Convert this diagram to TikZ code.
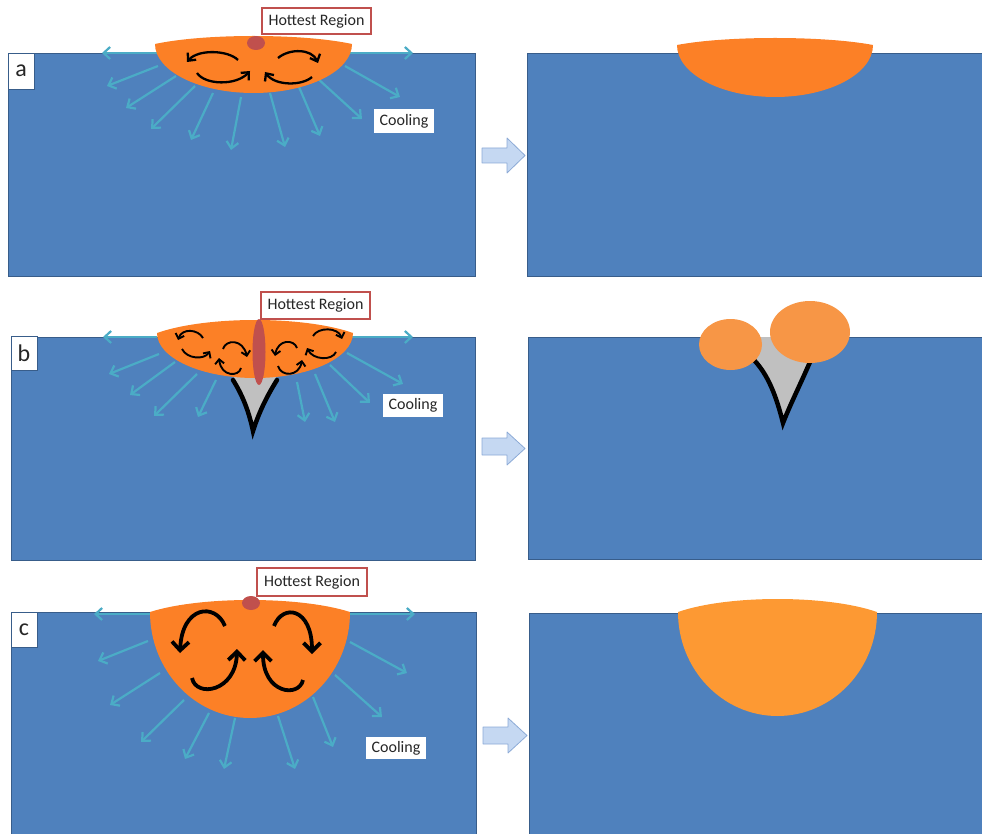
\documentclass[tikz,border=0pt]{standalone}
\usepackage{fontspec}
\setmainfont{Carlito}
\usetikzlibrary{arrows.meta}

\definecolor{steel}{RGB}{79,129,189}
\definecolor{steeledge}{RGB}{56,93,138}
\definecolor{melt}{RGB}{252,128,38}
\definecolor{meltlight}{RGB}{253,153,51}
\definecolor{droplet}{RGB}{247,150,70}
\definecolor{aqua}{RGB}{75,172,198}
\definecolor{brick}{RGB}{192,80,77}
\definecolor{slag}{RGB}{192,192,192}
\definecolor{inktext}{RGB}{38,38,38}
\definecolor{stepfill}{RGB}{197,216,242}
\definecolor{stepedge}{RGB}{140,170,214}

\tikzset{
  panel/.style={fill=steel, draw=steeledge, line width=0.8pt},
  heat/.style={draw=aqua, line width=2.2pt, -{Straight Barb[length=6.5pt,width=12pt]}},
  curl/.style={draw=black, line width=2.3pt, -{Straight Barb[length=6pt,width=11pt]}},
  thincurl/.style={draw=black, line width=1.9pt, -{Straight Barb[length=4.5pt,width=9pt]}},
  bigcurl/.style={draw=black, line width=3.8pt, -{Straight Barb[length=8.5pt,width=17pt]}},
  tag/.style={fill=white, draw=steeledge, line width=0.6pt, inner sep=0pt,
    font=\fontsize{24}{28}\selectfont, text=inktext},
  hotlabel/.style={fill=white, draw=brick, line width=1.4pt, inner sep=0pt,
    minimum width=109pt, minimum height=26pt, font=\fontsize{16}{18}\selectfont, text=inktext},
  coollabel/.style={fill=white, inner sep=0pt, minimum width=60pt, minimum height=23pt,
    font=\fontsize{16}{18}\selectfont, text=inktext},
  stepper/.style={fill=stepfill, draw=stepedge, line width=0.8pt, line join=round},
  notch/.style={draw=black, line width=4.5pt, line cap=round},
}

% melt pool: fill, left x, right x, rim y, crown height, depth
\newcommand\meltpool[6]{%
  \fill[#1] (#2,#4)
    .. controls ({#2+0.25*(#3-#2)},{#4-4*#5/3}) and ({#3-0.25*(#3-#2)},{#4-4*#5/3}) .. (#3,#4)
    arc[start angle=0, end angle=180, x radius={(#3-#2)/2}, y radius=#6] -- cycle;}

% process arrow: left x, head x, tip x, top y, bottom y, shaft top y, shaft bottom y
\newcommand\processarrow[7]{%
  \draw[stepper] (#1,#6) -- (#2,#6) -- (#2,#4) -- (#3,{(#4+#5)/2}) -- (#2,#5) -- (#2,#7) -- (#1,#7) -- cycle;}

\begin{document}
\begin{tikzpicture}[x=1pt, y=1pt, yscale=-1]
\path[use as bounding box] (0,0) rectangle (982,834);
\clip (0,0) rectangle (982,834);

% ---------------- row a ----------------
\draw[panel] (8,53) rectangle (475,276);
\draw[panel] (527,53) rectangle (990,276);

\foreach \sx/\sy/\ex/\ey in {157/53/102/53, 350/53/413/53,
  158/66/107/86, 176/76/126/108, 195/86/151/129, 213/93/191/140, 241/97/231/150,
  270/93/285/147, 299/87/320/136, 316/77/362/119, 345/66/400/97}
  \draw[heat] (\sx,\sy) -- (\ex,\ey);

\meltpool{melt}{155}{352}{44}{8}{49}
\draw[curl] (238,60) .. controls (228,50) and (198,49) .. (187,62);
\draw[curl] (197,73) .. controls (205,85) and (236,86) .. (250,71);
\draw[curl] (278,58) .. controls (290,48) and (312,49) .. (318,63);
\draw[curl] (312,77) .. controls (302,86) and (275,86) .. (265,72);
\fill[brick] (256,43) ellipse [x radius=9, y radius=7];

\node[tag, minimum width=26pt, minimum height=36pt] (tagA) at (21,71) {a};
\node[hotlabel] (hotA) at (316.5,21) {Hottest Region};
\node[coollabel, minimum height=24pt] (coolA) at (404,121) {Cooling};

\meltpool{melt}{677}{873}{45}{7}{52}
\processarrow{482}{507}{525}{138}{173}{148}{163}

% ---------------- row b ----------------
\draw[panel] (11,337) rectangle (475,560);
\draw[panel] (528,337) rectangle (990,559);

\foreach \sx/\sy/\ex/\ey in {157/337/103/337, 352/337/413/337,
  159/354/109/374, 175/362/130/395, 197/374/154/416, 216/380/198/417,
  297/382/305/422, 315/374/335/422, 330/365/370/403, 347/353/403/384}
  \draw[heat] (\sx,\sy) -- (\ex,\ey);

\fill[slag] (231,372) .. controls (243,392) and (249,410) .. (253,432)
  .. controls (259,410) and (267,392) .. (279,372) -- cycle;
\draw[notch] (233,380) .. controls (243,396) and (249,412) .. (253,431)
  .. controls (259,412) and (267,396) .. (277,380);
\meltpool{melt}{157}{353}{333}{13}{45}
\draw[thincurl] (203,338) .. controls (198,329) and (182,328) .. (178,340);
\draw[thincurl] (182,349) .. controls (187,359) and (204,360) .. (210,351);
\draw[thincurl] (223,349) .. controls (226,339) and (243,339) .. (247,357);
\draw[thincurl] (241,368) .. controls (239,377) and (221,377) .. (219,358);
\draw[thincurl] (297,348) .. controls (294,339) and (278,339) .. (275,356);
\draw[thincurl] (278,366) .. controls (281,377) and (299,377) .. (302,360);
\draw[thincurl] (313,336) .. controls (318,327) and (338,327) .. (342,339);
\draw[thincurl] (336,352) .. controls (332,361) and (313,360) .. (307,348);
\fill[brick] (259,352) ellipse [x radius=6.5, y radius=33];

\node[tag, minimum width=26pt, minimum height=34pt] (tagB) at (24,353) {b};
\node[hotlabel, minimum height=27pt] (hotB) at (315.5,305.5) {Hottest Region};
\node[coollabel] (coolB) at (413,405.5) {Cooling};

\fill[slag] (752,337) -- (754,360) .. controls (768,375) and (776,395) .. (783,424)
  .. controls (790,405) and (800,385) .. (810,362) -- (812,337) -- cycle;
\draw[notch] (754,360) .. controls (768,375) and (776,395) .. (783,423)
  .. controls (790,405) and (800,385) .. (810,362);
\fill[droplet] (730.5,344.5) ellipse [x radius=31.5, y radius=25.5];
\fill[droplet] (810,332) ellipse [x radius=40, y radius=31];
\processarrow{482}{507}{525}{432}{465}{438}{455}

% ---------------- row c ----------------
\draw[panel] (11,612) rectangle (476,840);
\draw[panel] (529,613) rectangle (990,840);

\foreach \sx/\sy/\ex/\ey in {150/614/94/614, 350/614/415/614,
  148/641/98/661, 160/673/110/705, 184/700/141/742, 209/713/185/759, 235/718/224/769,
  278/716/295/769, 313/697/333/747, 335/675/382/717, 350/642/407/673}
  \draw[heat] (\sx,\sy) -- (\ex,\ey);

\meltpool{melt}{150}{350}{612}{12}{106}
\draw[bigcurl] (225,626) .. controls (215,602) and (182,606) .. (180,653);
\draw[bigcurl] (192,678) .. controls (196,698) and (236,692) .. (237,649);
\draw[bigcurl] (274,626) .. controls (283,603) and (312,608) .. (312,654);
\draw[bigcurl] (303,680) .. controls (299,698) and (263,694) .. (263,650);
\fill[brick] (251,603) ellipse [x radius=9, y radius=7];

\node[tag, minimum width=26pt, minimum height=35pt] (tagC) at (24,629.5) {c};
\node[hotlabel, minimum width=110pt, minimum height=28pt] (hotC) at (312,582) {Hottest Region};
\node[coollabel, minimum height=22pt] (coolC) at (396,748) {Cooling};

\meltpool{meltlight}{678}{877}{612}{13}{104}
\processarrow{483}{508}{527}{718}{753}{727}{744}
\end{tikzpicture}
\end{document}
